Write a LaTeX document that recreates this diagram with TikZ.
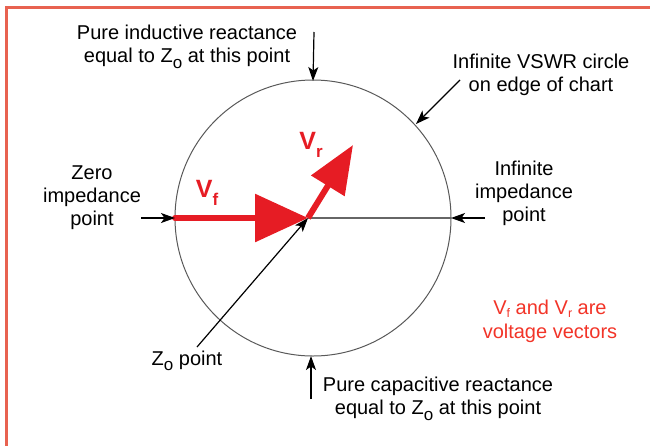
\documentclass[tikz,border=0pt]{standalone}
\usepackage{fontspec}
\setmainfont{Liberation Sans}
\usetikzlibrary{arrows.meta}
\definecolor{framered}{RGB}{232,98,80}
\definecolor{vecred}{RGB}{230,28,36}
\definecolor{txtred}{RGB}{242,52,40}
\newcommand{\lowsub}[1]{\raisebox{-0.55ex}[\height][0pt]{\scalebox{0.85}{#1}}}
\newcommand{\vsub}[1]{\raisebox{-0.6ex}[\height][0pt]{\scalebox{0.68}{#1}}}
\newcommand{\nsub}[1]{\raisebox{-0.35ex}[\height][0pt]{\scalebox{0.62}{#1}}}

\begin{document}
\begin{tikzpicture}[x=1pt, y=-1pt,
    lbl/.style={align=center, font=\fontsize{20}{23}\selectfont, inner sep=0pt},
    vlbl/.style={text=vecred, font=\fontsize{25}{25}\selectfont\bfseries, inner sep=0pt},
    pointer/.style={line width=1.2pt, -{Stealth[length=14pt,width=10pt,inset=3.5pt]}},
    vec/.style={vecred, line width=6pt}]
    \useasboundingbox (0,0) rectangle (650,445);
    \draw[framered, line width=2.5pt] (6.5,450) -- (6.5,7.5) -- (660,7.5);
    \coordinate (C) at (313,218);
    \coordinate (O) at (308,218);
    \coordinate (L) at (175,218);
    \coordinate (R) at (451,218);
    \coordinate (T) at (313,81);
    \coordinate (B) at (311,356);
    \coordinate (E) at (416,124);
    \coordinate (Vr) at (353,145);
    \draw[black!65, line width=1pt] (C) circle (138pt);
    \draw[black!60, line width=1.4pt] (O) -- (R);
    % the two voltage vectors
    \draw[vec, line cap=round, -{Triangle[length=53pt,width=47pt]}] (L) -- (O);
    \draw[vec, -{Triangle[length=48pt,width=38pt]}] (O) -- (Vr);
    \node[vlbl] (vf) at (207,189) {V\vsub{f}};
    \node[vlbl] (vr) at (311,141) {V\vsub{r}};
    % labels
    \node[lbl] (ind) at (187,46) {Pure inductive reactance\\equal to Z\lowsub{o} at this point};
    \node[lbl] (vswr) at (541,75) {Infinite VSWR circle\\on edge of chart};
    \node[lbl] (inf) at (524,193) {Infinite\\impedance\\point};
    \node[lbl] (zero) at (92,198) {Zero\\impedance\\point};
    \node[lbl] (zo) at (187,360) {Z\lowsub{o} point};
    \node[lbl] (cap) at (438,398) {Pure capacitive reactance\\equal to Z\lowsub{o} at this point};
    \node[lbl, text=txtred, font=\fontsize{20}{24}\selectfont] (note) at (550,321) {V\nsub{f} and V\nsub{r} are\\voltage vectors};
    % pointers
    \coordinate (indtail) at (314,32);
    \coordinate (vswrtail) at (460,80);
    \coordinate (inftail) at (485,218);
    \coordinate (zerotail) at (141,218);
    \coordinate (zotail) at (197,347);
    \coordinate (captail) at (311,399);
    \draw[pointer] (indtail) -- (T);
    \draw[pointer] (vswrtail) -- (E);
    \draw[pointer] (inftail) -- (R);
    \draw[pointer] (zerotail) -- (L);
    \draw[pointer] (zotail) -- (O);
    \draw[pointer] (captail) -- (B);
\end{tikzpicture}
\end{document}
